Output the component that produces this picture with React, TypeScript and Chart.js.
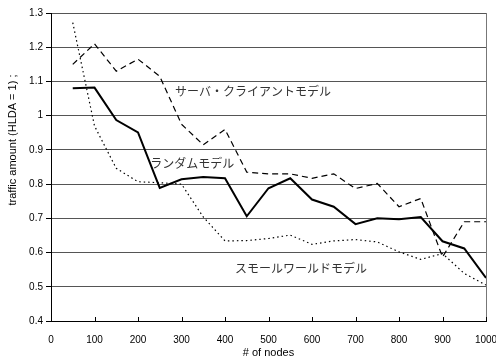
import { useEffect, useRef } from 'react';
import { Chart, registerables } from 'chart.js';

Chart.register(...registerables);

const nodes = [50, 100, 150, 200, 250, 300, 350, 400, 450, 500, 550, 600, 650, 700, 750, 800, 850, 900, 950, 1000];
const serverClient = [1.15, 1.21, 1.13, 1.165, 1.115, 0.975, 0.915, 0.96, 0.835, 0.83, 0.83, 0.817, 0.83, 0.787, 0.802, 0.734, 0.758, 0.587, 0.69, 0.69];
const randomModel = [1.08, 1.082, 0.987, 0.951, 0.789, 0.814, 0.821, 0.817, 0.706, 0.788, 0.817, 0.755, 0.734, 0.683, 0.7, 0.697, 0.704, 0.633, 0.612, 0.526];
const smallWorld = [1.272, 0.97, 0.846, 0.807, 0.804, 0.8, 0.704, 0.634, 0.635, 0.641, 0.651, 0.624, 0.634, 0.638, 0.631, 0.602, 0.58, 0.597, 0.539, 0.505];
const seriesNames = ['サーバ・クライアントモデル', 'ランダムモデル', 'スモールワールドモデル'];
const xTitle = '# of nodes';
const yTitle = 'traffic amount (HLDA = 1) ;';

const TICK_FONT = { family: '"Liberation Sans", Arial, sans-serif', size: 10 };
const TITLE_FONT = { family: '"Liberation Sans", Arial, sans-serif', size: 11 };

const overlayPlugin = {
  id: 'overlay',
  afterDraw(chart: any) {
    const { ctx, chartArea, scales } = chart;
    const xs = scales.x;
    const ys = scales.y;
    ctx.save();
    // right border
    ctx.strokeStyle = '#777';
    ctx.lineWidth = 1;
    ctx.beginPath();
    ctx.moveTo(Math.round(chartArea.right) + 0.5, chartArea.top);
    ctx.lineTo(Math.round(chartArea.right) + 0.5, chartArea.bottom);
    ctx.stroke();
    // inward x ticks
    ctx.strokeStyle = '#000';
    ctx.beginPath();
    for (const t of xs.ticks) {
      const px = Math.round(xs.getPixelForValue(t.value)) + 0.5;
      ctx.moveTo(px, chartArea.bottom);
      ctx.lineTo(px, chartArea.bottom - 4);
    }
    ctx.stroke();
    // series labels
    ctx.fillStyle = '#333';
    ctx.font = '12px "Noto Sans CJK JP", sans-serif';
    ctx.textAlign = 'left';
    ctx.textBaseline = 'middle';
    const anchors: [number, number][] = [[285, 1.07], [228, 0.861], [423, 0.554]];
    seriesNames.forEach((name, i) => {
      ctx.fillText(name, xs.getPixelForValue(anchors[i][0]), ys.getPixelForValue(anchors[i][1]));
    });
    // y title
    ctx.fillStyle = '#000';
    ctx.font = '11px "Liberation Sans", Arial, sans-serif';
    ctx.textAlign = 'center';
    ctx.translate(13, 140);
    ctx.rotate(-Math.PI / 2);
    ctx.fillText(yTitle, 0, 0);
    ctx.restore();
  },
};

export default function App() {
  const ref = useRef<HTMLCanvasElement>(null);
  useEffect(() => {
    document.body.style.margin = '0';
    const mk = (arr: number[]) => nodes.map((x, i) => ({ x, y: arr[i] }));
    const chart = new Chart(ref.current!, {
      type: 'line',
      data: {
        datasets: [
          { label: seriesNames[0], data: mk(serverClient), borderColor: '#000', borderWidth: 1.2, borderDash: [6, 4], pointRadius: 0, fill: false, tension: 0 },
          { label: seriesNames[1], data: mk(randomModel), borderColor: '#000', borderWidth: 2, pointRadius: 0, fill: false, tension: 0 },
          { label: seriesNames[2], data: mk(smallWorld), borderColor: '#000', borderWidth: 1.2, borderDash: [1.5, 3], pointRadius: 0, fill: false, tension: 0 },
        ],
      },
      options: {
        animation: false,
        responsive: false,
        events: [],
        layout: { padding: { left: 0, right: 0, top: 13, bottom: 0 } },
        plugins: { legend: { display: false }, tooltip: { enabled: false } },
        scales: {
          x: {
            type: 'linear',
            min: 0,
            max: 1000,
            ticks: { stepSize: 100, color: '#000', font: TICK_FONT, padding: 13, maxRotation: 0, autoSkip: false, callback: (v: any) => String(v) },
            grid: { drawOnChartArea: false, drawTicks: false },
            border: { color: '#000', width: 1 },
            title: { display: true, text: xTitle, color: '#000', font: TITLE_FONT, padding: { top: 3, bottom: 2 } },
            afterFit: (s: any) => { s.height = 41; s.paddingRight = 10; s.paddingLeft = 0; },
          },
          y: {
            type: 'linear',
            min: 0.4,
            max: 1.3,
            ticks: { stepSize: 0.1, color: '#000', font: TICK_FONT, padding: 3, callback: (v: any) => String(Number(Number(v).toFixed(1))) },
            grid: { color: '#555', tickColor: '#000', tickLength: 5, lineWidth: 1 },
            border: { color: '#000', width: 1 },
            afterFit: (s: any) => { s.width = 51; },
          },
        },
      },
      plugins: [overlayPlugin],
    });
    return () => chart.destroy();
  }, []);
  return (
    <div style={{ width: 496, height: 362 }}>
      <canvas ref={ref} width={496} height={362} style={{ display: 'block' }} />
    </div>
  );
}
